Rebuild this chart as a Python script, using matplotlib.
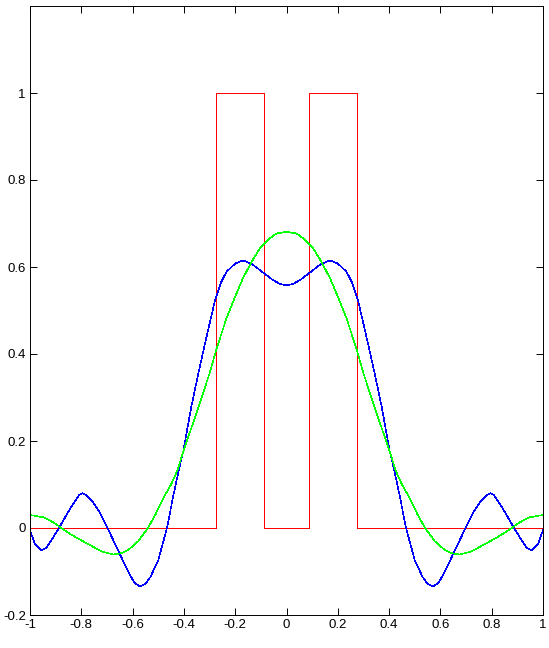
import matplotlib
matplotlib.use("Agg")
import matplotlib.pyplot as plt

red_x = [-1.0, -0.276, -0.276, -0.088, -0.088, 0.088, 0.088, 0.276, 0.276, 1.0]
red_y = [0, 0, 1, 1, 0, 0, 1, 1, 0, 0]

# Blue curve, points
blue_x = [-1.0, -0.982, -0.956, -0.935, -0.92, -0.887, -0.85, -0.82, -0.808, -0.796, -0.78, -0.76, -0.73,
          -0.698, -0.66, -0.62, -0.595, -0.572, -0.55, -0.53, -0.50, -0.466, -0.442,
          -0.42, -0.403, -0.371, -0.345, -0.31, -0.28, -0.255, -0.234, -0.20, -0.17,
          -0.135, -0.104, -0.075, -0.053, -0.025, 0.0,
          0.025, 0.053, 0.075, 0.104, 0.135, 0.17, 0.20, 0.234, 0.255, 0.28,
          0.31, 0.345, 0.371, 0.403, 0.42, 0.442, 0.466, 0.50, 0.53, 0.55,
          0.572, 0.595, 0.62, 0.66, 0.698, 0.73, 0.76, 0.78, 0.796, 0.808, 0.82, 0.85,
          0.887, 0.92, 0.935, 0.956, 0.982, 1.0]
blue_y = [-0.005, -0.035, -0.052, -0.045, -0.031, 0.0, 0.038, 0.066, 0.076, 0.080, 0.075, 0.064, 0.038,
          0.0, -0.047, -0.097, -0.124, -0.135, -0.128, -0.112, -0.074, 0.0, 0.072,
          0.133, 0.175, 0.279, 0.352, 0.444, 0.520, 0.565, 0.589, 0.608, 0.615,
          0.607, 0.593, 0.580, 0.570, 0.561, 0.558,
          0.561, 0.570, 0.580, 0.593, 0.607, 0.615, 0.608, 0.589, 0.565, 0.520,
          0.444, 0.352, 0.279, 0.175, 0.133, 0.072, 0.0, -0.074, -0.112, -0.128,
          -0.135, -0.124, -0.097, -0.047, 0.0, 0.038, 0.064, 0.075, 0.080, 0.076, 0.066, 0.038,
          0.0, -0.031, -0.045, -0.052, -0.035, -0.005]

# Green curve, points
green_x = [-1.0, -0.943, -0.904, -0.878, -0.826, -0.761, -0.72, -0.676, -0.645, -0.618,
           -0.579, -0.540, -0.51, -0.481, -0.45, -0.425, -0.403, -0.351, -0.302, -0.27,
           -0.234, -0.20, -0.17, -0.135, -0.104, -0.07, -0.039, 0.0,
           0.039, 0.07, 0.104, 0.135, 0.17, 0.20, 0.234, 0.27, 0.302, 0.351,
           0.403, 0.425, 0.45, 0.481, 0.51, 0.540, 0.579, 0.618, 0.645, 0.676,
           0.72, 0.761, 0.826, 0.878, 0.904, 0.943, 1.0]
green_y = [0.030, 0.024, 0.011, 0.0, -0.020, -0.041, -0.054, -0.061, -0.058, -0.051,
           -0.031, 0.0, 0.032, 0.068, 0.100, 0.133, 0.175, 0.264, 0.352, 0.417,
           0.482, 0.532, 0.574, 0.613, 0.643, 0.664, 0.677, 0.681,
           0.677, 0.664, 0.643, 0.613, 0.574, 0.532, 0.482, 0.417, 0.352, 0.264,
           0.175, 0.133, 0.100, 0.068, 0.032, 0.0, -0.031, -0.051, -0.058, -0.061,
           -0.054, -0.041, -0.020, 0.0, 0.011, 0.024, 0.030]

xticks = [-1, -0.8, -0.6, -0.4, -0.2, 0, 0.2, 0.4, 0.6, 0.8, 1]
xticklabels = ["-1", "-0.8", "-0.6", "-0.4", "-0.2", "0", "0.2", "0.4", "0.6", "0.8", "1"]
yticks = [-0.2, 0, 0.2, 0.4, 0.6, 0.8, 1]
yticklabels = ["-0.2", "0", "0.2", "0.4", "0.6", "0.8", "1"]

plt.rcParams['font.family'] = ['Liberation Sans', 'DejaVu Sans']

fig = plt.figure(figsize=(5.49, 6.48), dpi=100)
ax = fig.add_axes([30 / 549, (648 - 615) / 648, 513 / 549, 609 / 648])

lw = 0.4
ax.plot(red_x, red_y, color=(1, 0, 0), lw=0.72, antialiased=False)
ax.plot(blue_x, blue_y, color=(0, 0, 1), lw=lw, antialiased=False)
ax.plot(green_x, green_y, color=(0, 1, 0), lw=lw, antialiased=False)

ax.set_xlim(-1, 1)
ax.set_ylim(-0.2, 1.2)
ax.set_xticks(xticks)
ax.set_xticklabels(xticklabels)
ax.set_yticks(yticks)
ax.set_yticklabels(yticklabels)
ax.tick_params(direction='in', length=5, width=0.7, top=True, right=True,
               labelsize=9.5, pad=3, colors='black')
for s in ax.spines.values():
    s.set_linewidth(0.7)
    s.set_color('black')

fig.savefig("out.png", dpi=100, facecolor='white')
